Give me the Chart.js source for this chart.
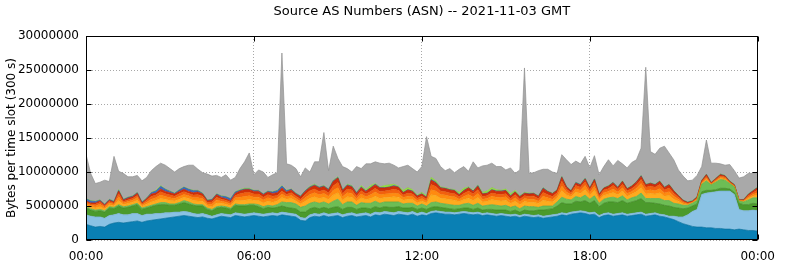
<!DOCTYPE html>
<html><head><meta charset="utf-8">
<script src="https://cdn.jsdelivr.net/npm/chart.js@4/dist/chart.umd.min.js"></script>
<style>html,body{margin:0;padding:0;background:#fff}#wrap{width:785px;height:264px;position:relative}</style>
</head><body><div id="wrap"><canvas id="c" width="785" height="264"></canvas></div>
<script>
const chartTitle = 'Source AS Numbers (ASN) -- 2021-11-03 GMT';
const yAxisTitle = 'Bytes per time slot (300 s)';
const xTickLabels = ['00:00', '06:00', '12:00', '18:00', '00:00'];
// one sample every 10 minutes, 00:00 .. 24:00 (145 slots), values in millions of bytes
const slotMinutes = Array.from({length: 145}, (_, i) => i * 10);

const darkBlue = [2.3,2.1,1.9,2.0,1.9,2.3,2.5,2.6,2.5,2.6, 2.7,2.8,2.6,2.8,2.9,3.0,3.1,3.2,3.3,3.4, 3.5,3.6,3.5,3.4,3.3,3.4,3.2,3.1,3.3,3.5, 3.4,3.3,3.6,3.5,3.4,3.5,3.6,3.5,3.4,3.5, 3.6,3.5,3.7,3.6,3.5,3.4,2.9,2.8,3.3,3.5, 3.4,3.6,3.4,3.5,3.6,3.3,3.5,3.6,3.4,3.5, 3.6,3.4,3.7,3.6,3.8,3.7,3.6,3.8,3.7,3.6, 3.8,3.5,3.7,3.6,3.9,4.0,3.9,3.8,3.8,3.7, 3.8,3.9,3.8,3.7,3.8,3.6,3.7,3.6,3.5,3.6, 3.5,3.4,3.5,3.3,3.5,3.4,3.3,3.4,3.2,3.3, 3.4,3.5,3.7,3.6,3.8,3.9,4.0,3.9,3.7,3.8, 3.3,3.6,3.7,3.5,3.6,3.7,3.5,3.6,3.7,3.8, 3.5,3.6,3.7,3.5,3.4,3.2,3.0,2.7,2.4,2.2, 2.0,1.9,1.9,1.8,1.8,1.7,1.7,1.6,1.6,1.5, 1.6,1.5,1.4,1.4,1.3];
const lightBlue = [1.4,1.4,1.5,1.4,1.3,1.3,1.2,1.3,1.2,1.1, 1.2,1.1,1.0,1.0,0.9,0.9,0.8,0.8,0.7,0.7, 0.6,0.6,0.6,0.5,0.5,0.5,0.5,0.4,0.4,0.4, 0.4,0.4,0.4,0.4,0.4,0.4,0.4,0.4,0.4,0.4, 0.4,0.4,0.4,0.4,0.4,0.4,0.4,0.4,0.4,0.4, 0.4,0.4,0.4,0.4,0.4,0.4,0.4,0.4,0.4,0.4, 0.4,0.4,0.4,0.4,0.4,0.4,0.4,0.4,0.4,0.4, 0.4,0.4,0.4,0.3,0.3,0.3,0.3,0.3,0.3,0.3, 0.3,0.3,0.3,0.3,0.3,0.3,0.3,0.3,0.3,0.3, 0.3,0.3,0.3,0.3,0.3,0.3,0.3,0.3,0.3,0.3, 0.3,0.3,0.3,0.3,0.3,0.3,0.3,0.3,0.3,0.3, 0.3,0.3,0.3,0.3,0.3,0.3,0.3,0.3,0.3,0.3, 0.3,0.3,0.3,0.3,0.3,0.3,0.5,0.7,1.0,1.5, 2.2,2.6,4.8,5.1,5.2,5.4,5.5,5.6,5.6,5.2, 2.9,2.8,2.9,3.0,3.0];
const darkGreen = [1.0,0.9,0.8,0.9,0.9,1.1,0.9,1.1,1.0,1.1, 1.1,1.3,0.9,0.9,1.1,1.2,1.3,1.2,1.1,1.0, 1.2,1.3,1.2,1.2,1.2,1.1,0.8,0.8,1.0,0.9, 0.9,0.8,1.1,1.1,1.2,1.2,1.1,1.0,0.8,0.9, 0.7,0.9,0.9,0.8,0.8,0.8,0.8,0.9,0.9,0.9, 0.8,0.8,0.8,0.9,0.9,0.8,0.9,0.8,0.7,0.8, 0.7,0.8,0.8,0.7,0.7,0.7,0.8,0.7,0.6,0.7, 0.6,0.6,0.6,0.6,0.6,0.6,0.6,0.6,0.5,0.5, 0.5,0.5,0.6,0.5,0.6,0.5,0.5,0.6,0.6,0.5, 0.6,0.5,0.6,0.5,0.6,0.6,0.7,0.7,0.9,0.9, 0.9,1.2,1.5,1.4,1.2,1.5,1.3,1.6,1.4,1.7, 1.3,1.5,1.6,1.8,1.6,1.8,1.6,1.7,1.8,2.0, 1.7,1.6,1.4,1.5,1.4,1.5,1.3,1.3,1.2,1.0, 0.8,0.8,0.4,0.4,0.3,0.3,0.4,0.4,0.3,0.3, 0.9,0.9,0.9,1.0,1.0];
const lightGreen = [0.2,0.2,0.2,0.2,0.2,0.2,0.2,0.2,0.2,0.2, 0.2,0.2,0.2,0.2,0.2,0.2,0.3,0.3,0.2,0.2, 0.2,0.3,0.3,0.2,0.2,0.2,0.2,0.2,0.2,0.2, 0.2,0.2,0.2,0.2,0.2,0.2,0.2,0.3,0.3,0.3, 0.3,0.4,0.6,0.7,0.8,0.7,0.7,0.9,0.8,0.8, 0.8,0.8,0.7,0.9,1.1,0.7,0.8,0.8,0.6,0.8, 0.7,0.8,0.8,0.7,0.7,0.8,0.8,0.7,0.6,0.7, 0.6,0.5,0.6,0.5,0.7,0.7,0.6,0.6,0.6,0.6, 0.5,0.6,0.7,0.6,0.7,0.6,0.6,0.7,0.7,0.6, 0.7,0.6,0.6,0.5,0.6,0.6,0.6,0.4,0.6,0.5, 0.4,0.6,0.8,0.7,0.6,0.7,0.6,0.8,0.6,0.7, 0.5,0.6,0.6,0.7,0.6,0.7,0.5,0.6,0.6,0.8, 0.6,0.6,0.7,0.8,0.7,0.8,0.6,0.6,0.5,0.4, 0.4,0.5,1.1,1.4,0.8,1.1,1.3,1.2,0.8,0.8, 0.3,0.4,0.7,0.8,0.9];
const yellowOrange = [0.25,0.25,0.3,0.4,0.25,0.3,0.25,0.6,0.3,0.35, 0.35,0.45,0.25,0.35,0.5,0.5,0.6,0.5,0.5,0.45, 0.5,0.5,0.5,0.5,0.55,0.5,0.35,0.4,0.55,0.4, 0.35,0.35,0.5,0.6,0.65,0.65,0.55,0.6,0.55,0.6, 0.55,0.55,0.65,0.5,0.6,0.45,0.5,0.7,0.75,0.75, 0.7,0.7,0.65,0.9,0.95,0.65,0.75,0.7,0.55,0.7, 0.55,0.7,0.75,0.7,0.65,0.7,0.75,0.7,0.55,0.6, 0.55,0.45,0.45,0.4,1.15,0.95,0.75,0.75,0.75,0.75, 0.55,0.65,0.75,0.7,0.85,0.6,0.6,0.75,0.7,0.75, 0.75,0.55,0.7,0.6,0.65,0.65,0.65,0.55,0.85,0.7, 0.6,0.55,0.95,0.6,0.45,0.65,0.65,0.8,0.55,0.8, 0.45,0.55,0.55,0.7,0.55,0.7,0.55,0.55,0.7,0.8, 0.65,0.75,0.65,0.85,0.65,0.75,0.6,0.4,0.2,0.1, 0.1,0.1,0.1,0.2,0.05,0.1,0.15,0.15,0.05,0.05, 0.05,0.1,0.2,0.25,0.4];
const orange = [0.25,0.25,0.3,0.35,0.25,0.25,0.2,0.55,0.25,0.3, 0.3,0.4,0.2,0.3,0.4,0.4,0.5,0.4,0.4,0.35, 0.4,0.4,0.4,0.4,0.45,0.4,0.25,0.35,0.45,0.3, 0.3,0.25,0.4,0.5,0.55,0.55,0.45,0.5,0.45,0.5, 0.45,0.4,0.5,0.35,0.45,0.35,0.35,0.5,0.55,0.6, 0.55,0.55,0.5,0.7,0.75,0.5,0.6,0.55,0.4,0.55, 0.4,0.55,0.6,0.55,0.5,0.5,0.55,0.5,0.4,0.45, 0.4,0.35,0.35,0.3,0.75,0.65,0.55,0.55,0.5,0.5, 0.35,0.45,0.55,0.5,0.6,0.4,0.4,0.5,0.5,0.5, 0.5,0.4,0.5,0.4,0.45,0.45,0.45,0.35,0.6,0.5, 0.4,0.4,0.7,0.45,0.3,0.5,0.45,0.6,0.4,0.6, 0.3,0.4,0.4,0.5,0.4,0.5,0.4,0.4,0.5,0.6, 0.5,0.55,0.5,0.6,0.45,0.55,0.45,0.3,0.2,0.1, 0.05,0.1,0.1,0.2,0.05,0.1,0.15,0.15,0.05,0.05, 0.05,0.05,0.2,0.25,0.35];
const redOrange = [0.2,0.2,0.25,0.25,0.2,0.2,0.15,0.45,0.2,0.25, 0.25,0.3,0.15,0.3,0.4,0.4,0.5,0.4,0.4,0.35, 0.4,0.4,0.35,0.4,0.45,0.35,0.25,0.35,0.4,0.3, 0.3,0.25,0.35,0.5,0.55,0.5,0.45,0.45,0.4,0.45, 0.45,0.4,0.45,0.35,0.4,0.35,0.35,0.5,0.55,0.55, 0.5,0.5,0.45,0.65,0.75,0.45,0.55,0.5,0.4,0.5, 0.4,0.5,0.55,0.5,0.45,0.5,0.55,0.5,0.35,0.45, 0.4,0.35,0.35,0.3,0.75,0.65,0.5,0.5,0.45,0.45, 0.35,0.45,0.5,0.45,0.55,0.4,0.4,0.45,0.45,0.45, 0.45,0.35,0.45,0.4,0.4,0.4,0.45,0.35,0.55,0.45, 0.4,0.4,0.7,0.4,0.3,0.45,0.45,0.55,0.4,0.55, 0.3,0.4,0.4,0.5,0.4,0.5,0.4,0.4,0.5,0.6, 0.5,0.5,0.5,0.6,0.45,0.55,0.4,0.3,0.15,0.1, 0.05,0.15,0.15,0.25,0.1,0.15,0.2,0.15,0.1,0.1, 0.05,0.1,0.2,0.25,0.4];
const red = [0.15,0.15,0.2,0.25,0.15,0.2,0.15,0.4,0.2,0.25, 0.25,0.3,0.15,0.2,0.35,0.3,0.4,0.35,0.35,0.3, 0.35,0.35,0.3,0.35,0.4,0.3,0.2,0.25,0.35,0.25, 0.2,0.2,0.3,0.4,0.45,0.4,0.4,0.4,0.35,0.4, 0.4,0.4,0.45,0.35,0.4,0.3,0.35,0.45,0.45,0.5, 0.5,0.5,0.45,0.65,0.65,0.45,0.5,0.45,0.4,0.45, 0.4,0.5,0.5,0.5,0.45,0.45,0.45,0.45,0.35,0.45, 0.4,0.3,0.3,0.25,0.65,0.55,0.45,0.45,0.45,0.45, 0.3,0.4,0.45,0.4,0.5,0.35,0.35,0.45,0.4,0.45, 0.45,0.35,0.4,0.35,0.35,0.35,0.35,0.35,0.55,0.45, 0.4,0.35,0.55,0.35,0.25,0.35,0.35,0.4,0.25,0.4, 0.25,0.25,0.35,0.4,0.25,0.4,0.25,0.35,0.4,0.45, 0.35,0.4,0.35,0.45,0.35,0.45,0.35,0.2,0.15,0.1, 0.1,0.15,0.15,0.25,0.1,0.15,0.2,0.15,0.1,0.1, 0.05,0.05,0.2,0.25,0.35];
const blue = [0.3,0.3,0.2,0.1,0.1,0.1,0.1,0.1,0.1,0.1, 0.1,0.1,0.1,0.1,0.2,0.3,0.4,0.3,0.2,0.1, 0.2,0.3,0.3,0.3,0.2,0.1,0.1,0.1,0.1,0.2, 0.3,0.3,0.2,0.1,0.1,0.1,0.1,0.1,0.1,0.1, 0.2,0.3,0.3,0.2,0.1,0.1,0.1,0.1,0.1,0.1, 0.1,0.1,0.1,0.1,0.1,0.1,0.1,0.1,0.1,0.1, 0.05,0.05,0.1,0.05,0.05,0.05,0.1,0.05,0.05,0.05, 0.05,0.05,0.05,0.05,0.1,0.1,0.05,0.05,0.05,0.05, 0.05,0.05,0.05,0.05,0.1,0.05,0.05,0.05,0.05,0.05, 0.05,0.05,0.05,0.05,0.05,0.05,0.05,0.05,0.1,0.05, 0.05,0.05,0.1,0.05,0.05,0.1,0.05,0.1,0.05,0.1, 0.05,0.05,0.05,0.05,0.05,0.05,0.05,0.05,0.05,0.1, 0.05,0.05,0.05,0.05,0.05,0.05,0.05,0.05,0.05,0.05, 0.05,0.05,0.05,0.05,0.05,0.05,0.05,0.05,0.05,0.05, 0,0.05,0.05,0.05,0.05];
const lime = [0.05,0.05,0.05,0.05,0.05,0.05,0.05,0.1,0.05,0.05, 0.05,0.05,0.05,0.05,0.05,0.1,0.1,0.05,0.05,0.05, 0.05,0.05,0.05,0.05,0.05,0.05,0.05,0.05,0.05,0.05, 0.05,0.05,0.05,0.1,0.1,0.1,0.05,0.05,0.05,0.05, 0.05,0.05,0.05,0.05,0.05,0.05,0.05,0.05,0.1,0.1, 0.05,0.05,0.05,0.1,0.1,0.05,0.1,0.1,0.05,0.2, 0.2,0.3,0.1,0.1,0.3,0.3,0.2,0.1,0.3,0.3, 0.2,0.1,0.2,0.2,0.3,0.2,0.1,0.1,0.1,0.1, 0.3,0.3,0.1,0.1,0.1,0.2,0.3,0.3,0.2,0.1, 0.2,0.3,0.2,0.1,0.1,0.1,0.05,0.05,0.05,0.05, 0.05,0.05,0.05,0.05,0.05,0.05,0.05,0.05,0.05,0.05, 0.05,0.05,0.05,0.05,0.05,0.05,0.05,0.05,0.05,0.05, 0.05,0.05,0.05,0.05,0.05,0.05,0.05,0.05,0.05,0.05, 0.05,0.05,0.05,0.05,0.05,0.05,0.05,0.05,0.05,0.05, 0,0.05,0.05,0.05,0.05];
const others = [6.5,4.0,2.6,2.6,3.5,2.6,6.6,2.7,3.8,3.0, 2.8,2.5,3.1,3.0,3.2,3.5,3.3,3.5,3.3,3.1, 3.1,3.0,3.5,3.7,3.1,3.0,3.8,3.4,2.7,2.7, 3.2,2.7,2.1,3.1,3.9,5.2,2.3,3.0,3.2,2.0, 2.5,2.6,19.5,3.9,3.5,3.6,2.8,3.3,2.1,3.3, 3.7,7.8,2.7,5.0,2.7,3.4,2.3,2.0,3.8,2.5, 3.8,3.2,3.2,3.5,3.2,3.2,2.8,2.7,3.5,3.3, 3.1,3.4,3.8,8.7,3.1,3.3,3.0,2.5,3.0,2.5, 3.4,3.2,2.3,4.2,2.5,3.9,3.8,3.6,3.4,3.5, 2.8,3.8,2.5,3.8,18.3,2.9,3.0,3.7,2.7,3.2, 3.1,2.4,3.2,3.9,3.8,3.1,3.0,3.2,2.9,3.4, 2.8,3.1,3.8,2.4,3.9,2.5,3.0,3.4,3.2,4.0, 17.2,4.6,4.4,4.8,6.0,4.6,4.5,3.7,3.5,3.1, 3.0,3.1,2.0,5.0,2.8,2.2,1.5,1.5,2.4,2.0, 3.2,3.3,3.0,2.5,2.2];

const layers = [
  {name: 'AS 1', data: darkBlue,     fill: '#0a80b4', line: '#08709e'},
  {name: 'AS 2', data: lightBlue,    fill: '#8ac2e4', line: '#78afd2'},
  {name: 'AS 3', data: darkGreen,    fill: '#4b9a2c', line: '#3f8624'},
  {name: 'AS 4', data: lightGreen,   fill: '#6dbd55', line: '#5eaa48'},
  {name: 'AS 5', data: yellowOrange, fill: '#ffab1e', line: '#f09c12'},
  {name: 'AS 6', data: orange,       fill: '#ff8a10', line: '#f07c08'},
  {name: 'AS 7', data: redOrange,    fill: '#f2600e', line: '#e05408'},
  {name: 'AS 8', data: red,          fill: '#cf2f0a', line: '#bb2606'},
  {name: 'AS 9', data: blue,         fill: '#3c6cc0', line: '#325ea8'},
  {name: 'AS 10', data: lime,        fill: '#93e03e', line: '#84cc34'},
  {name: 'Others', data: others,     fill: '#a9a9a9', line: '#919191'}
];

Chart.defaults.font.family = '"DejaVu Sans", sans-serif';
Chart.defaults.font.size = 12;
Chart.defaults.color = '#000';

const frame = {
  id: 'frame',
  afterDatasetsDraw(chart) {
    const {ctx, chartArea: a, scales} = chart;
    ctx.save();
    ctx.strokeStyle = '#000';
    ctx.lineWidth = 1;
    const l = Math.round(a.left) + 0.5, r = Math.round(a.right) - 0.5;
    const t = Math.round(a.top) + 0.5, b = Math.round(a.bottom) - 0.5;
    ctx.strokeRect(l, t, r - l, b - t);
    ctx.beginPath();
    scales.y.ticks.forEach(tk => {
      const y = Math.round(scales.y.getPixelForValue(tk.value)) + 0.5;
      ctx.moveTo(l, y); ctx.lineTo(l + 5, y);
      ctx.moveTo(r, y); ctx.lineTo(r - 5, y);
    });
    scales.x.ticks.forEach(tk => {
      const x = Math.round(scales.x.getPixelForValue(tk.value)) + 0.5;
      ctx.moveTo(x, t); ctx.lineTo(x, t + 5);
      ctx.moveTo(x, b); ctx.lineTo(x, b - 5);
    });
    ctx.stroke();
    ctx.restore();
  },
  afterDraw(chart) {
    const {ctx, chartArea: a} = chart;
    ctx.save();
    ctx.font = '13px "DejaVu Sans", sans-serif';
    ctx.fillStyle = '#000';
    ctx.textAlign = 'center';
    ctx.textBaseline = 'middle';
    ctx.fillText(chartTitle, (a.left + a.right) / 2, 12);
    ctx.restore();
  }
};

new Chart(document.getElementById('c'), {
  type: 'line',
  data: {
    datasets: layers.map((s, k) => ({
      label: s.name,
      data: s.data.map((v, i) => ({x: slotMinutes[i], y: v * 1e6})),
      backgroundColor: s.fill,
      borderColor: s.line,
      borderWidth: 0.7,
      pointRadius: 0,
      tension: 0,
      fill: k === 0 ? 'origin' : '-1'
    }))
  },
  options: {
    responsive: false,
    animation: false,
    layout: {padding: {top: 36, right: 20, left: 0, bottom: 0}},
    plugins: {legend: {display: false}, tooltip: {enabled: false}, title: {display: false}},
    scales: {
      x: {
        type: 'linear', min: 0, max: 1440,
        ticks: {stepSize: 360, maxRotation: 0, padding: 10, color: '#000',
          callback: v => xTickLabels[Math.round(v / 360)]},
        grid: {color: '#a8a8a8', drawTicks: false, lineWidth: 1},
        border: {display: false, dash: [1, 2]},
        afterFit: s => { s.height = 24; }
      },
      y: {
        stacked: true, min: 0, max: 30000000,
        ticks: {stepSize: 5000000, padding: 7, color: '#000', callback: v => String(v)},
        grid: {color: '#a8a8a8', drawTicks: false, lineWidth: 1},
        border: {display: false, dash: [1, 2]},
        title: {display: true, text: yAxisTitle, color: '#000', font: {size: 12}, padding: {top: 5, bottom: 0}},
        afterFit: s => { s.width = 86; }
      }
    }
  },
  plugins: [frame]
});
</script>
</body></html>
